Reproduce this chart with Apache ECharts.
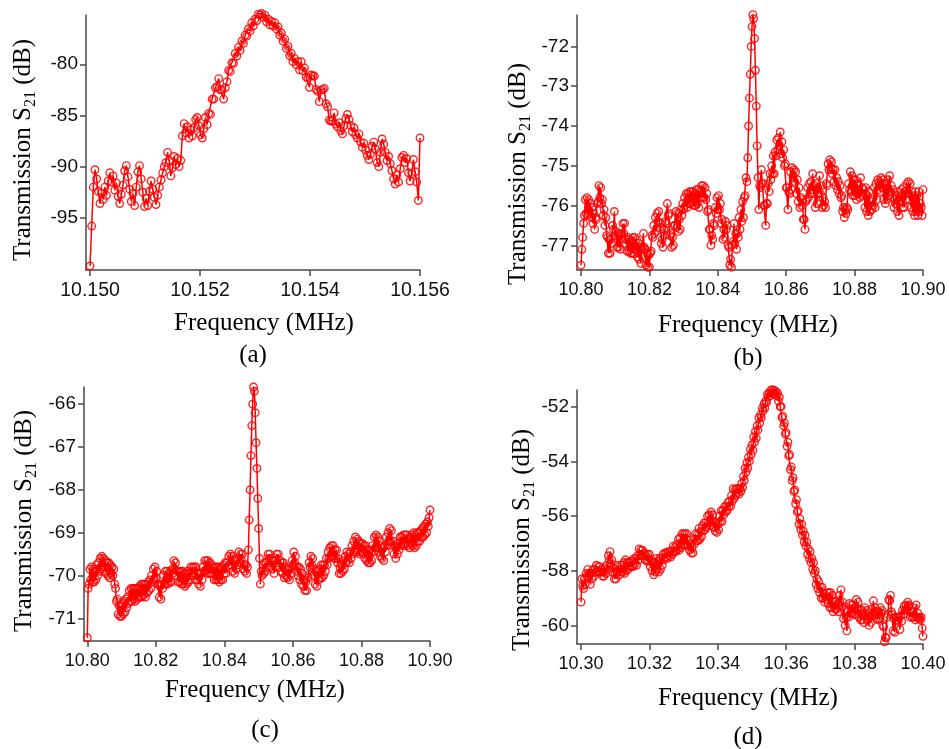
<!DOCTYPE html>
<html>
<head>
<meta charset="utf-8">
<script src="https://cdn.jsdelivr.net/npm/echarts@6/dist/echarts.min.js"></script>
<style>html,body{margin:0;padding:0;background:#fff}#chart{width:949px;height:749px}</style>
</head>
<body>
<div id="chart"></div>
<script>
// ---- Panel (a): sweep 10.150 .. 10.156 MHz ----
const sweepA = { start: 10.150, step: 0.00003 };
const s21A = [
-99.7,-95.8,-92.0,-90.3,-91.2,-92.4,-93.6,-92.6,-93.2,-92.0,
-92.8,-91.4,-90.6,-91.5,-90.9,-92.3,-91.6,-92.9,-93.6,-92.7,
-91.8,-90.4,-89.9,-91.0,-92.2,-93.4,-92.6,-93.8,-92.0,-90.5,
-89.9,-91.2,-92.5,-93.9,-93.1,-93.8,-92.4,-91.4,-92.2,-93.0,
-93.7,-92.8,-92.0,-91.3,-90.6,-90.0,-89.6,-88.6,-89.4,-90.9,
-90.1,-89.0,-89.8,-89.2,-90.0,-89.4,-87.0,-85.8,-86.7,-86.1,
-87.2,-86.4,-87.0,-86.2,-85.4,-85.2,-86.0,-86.9,-87.2,-86.3,
-85.2,-85.9,-84.8,-84.9,-83.4,-83.4,-82.3,-82.2,-81.4,-82.5,
-82.5,-83.4,-82.3,-81.7,-80.6,-80.7,-79.85,-79.9,-78.95,-79.2,
-78.35,-78.65,-77.75,-77.95,-77.15,-77.25,-76.55,-76.75,-75.95,-76.25,
-75.6,-75.75,-75.1,-75.2,-75.05,-75.4,-75.2,-75.85,-75.6,-76.15,
-75.8,-76.25,-75.95,-76.55,-76.35,-77.15,-76.95,-77.75,-77.55,-78.45,
-78.25,-79.15,-78.95,-79.75,-79.45,-80.05,-79.75,-80.55,-79.75,-80.65,
-80.35,-81.25,-81.35,-82.25,-81.05,-81.15,-81.15,-82.45,-82.65,-83.65,
-82.55,-82.45,-82.35,-83.85,-84.15,-85.45,-85.55,-85.55,-84.75,-85.85,
-86.1,-85.7,-86.5,-86.8,-86.0,-85.3,-84.9,-85.4,-86.0,-86.6,
-86.2,-86.9,-87.2,-86.8,-87.6,-88.1,-87.7,-88.4,-88.9,-89.3,
-88.8,-88.0,-87.6,-88.3,-89.6,-90.0,-88.6,-87.3,-87.8,-88.6,
-89.4,-89.0,-89.7,-90.4,-91.2,-91.7,-90.8,-91.5,-90.2,-89.1,
-88.9,-89.6,-89.2,-90.6,-91.4,-90.7,-89.3,-90.5,-91.5,-93.3,
-87.2
];
const xTicksA = [10.150, 10.152, 10.154, 10.156];
const yTicksA = [-95, -90, -85, -80];

// ---- Panel (b): sweep 10.80 .. 10.90 MHz ----
const sweepB = { start: 10.80, step: 0.00025 };
const s21B = [
-77.5,-77.1,-76.8,-76.45,-76.25,-75.85,-76.2,-75.8,-76.25,-75.85,
-76.2,-75.95,-76.3,-76.05,-76.45,-76.2,-76.6,-76.3,-76.35,-75.95,
-75.9,-75.5,-75.8,-75.55,-75.95,-75.85,-76.25,-76.1,-76.5,-76.3,
-76.75,-76.8,-77.2,-76.85,-77.2,-76.85,-76.95,-76.5,-76.6,-76.15,
-76.75,-76.65,-77.05,-76.7,-77.05,-76.75,-77.1,-76.7,-76.85,-76.45,
-76.7,-76.45,-76.95,-76.85,-77.15,-76.8,-77.15,-76.85,-77.2,-76.9,
-77.2,-76.8,-77.2,-76.8,-77.1,-76.85,-77.3,-76.95,-77.35,-77.05,
-77.45,-77.1,-77.05,-76.7,-77.05,-77.1,-77.5,-77.2,-77.55,-77.25,
-77.55,-77.2,-77.15,-76.75,-76.8,-76.5,-76.7,-76.3,-76.65,-76.2,
-76.4,-76.15,-76.55,-76.45,-76.95,-76.85,-77.05,-76.6,-76.75,-76.4,
-76.45,-75.95,-76.25,-76.2,-76.75,-76.7,-77.05,-76.8,-77.0,-76.5,
-76.5,-76.15,-76.55,-76.2,-76.65,-76.35,-76.6,-76.1,-76.25,-75.95,
-76.1,-75.8,-76.0,-75.7,-76.05,-75.7,-75.95,-75.65,-75.95,-75.65,
-75.9,-75.65,-76.0,-75.7,-76.0,-75.6,-75.95,-75.6,-76.05,-75.65,
-75.8,-75.5,-75.8,-75.5,-75.8,-75.55,-75.85,-75.7,-76.15,-76.1,
-76.6,-76.6,-77.0,-76.75,-76.85,-76.45,-76.5,-76.05,-76.2,-75.8,
-76.1,-75.75,-76.1,-75.95,-76.45,-76.35,-76.85,-76.6,-76.8,-76.4,
-76.6,-76.5,-77.0,-77.05,-77.5,-77.35,-77.55,-77.0,-76.9,-76.45,
-76.95,-76.7,-77.1,-76.7,-76.8,-76.3,-76.6,-76.1,-76.4,-75.9,
-76.3,-75.8,-75.75,-75.3,-75.4,-74.8,-74.0,-73.3,-72.7,-72.0,
-71.5,-71.2,-71.3,-71.8,-72.6,-73.5,-74.5,-75.3,-76.1,-75.5,
-75.55,-75.1,-75.45,-75.45,-76.0,-76.0,-76.5,-75.95,-75.95,-75.45,
-75.65,-75.2,-75.35,-75.0,-75.2,-74.75,-75.2,-74.65,-74.75,-74.35,
-74.6,-74.3,-74.5,-74.15,-74.7,-74.4,-74.8,-74.6,-75.0,-74.95,
-75.55,-75.55,-76.1,-75.65,-75.7,-75.15,-75.6,-75.05,-75.3,-75.1,
-75.4,-75.15,-75.7,-75.35,-75.9,-75.55,-76.05,-75.8,-76.0,-75.85,
-76.35,-76.35,-76.6,-75.9,-75.85,-75.55,-75.8,-75.45,-75.7,-75.4,
-75.6,-75.2,-75.7,-75.5,-76.05,-75.45,-75.95,-75.55,-75.7,-75.25,
-75.7,-75.5,-76.05,-75.8,-76.0,-75.9,-76.05,-75.45,-75.5,-74.95,
-75.1,-74.85,-75.05,-74.9,-75.2,-75.1,-75.4,-75.1,-75.5,-75.3,
-75.6,-75.4,-75.7,-75.5,-75.8,-75.75,-76.15,-76.05,-76.3,-76.1,
-76.2,-76.05,-76.1,-75.45,-75.6,-75.15,-75.65,-75.25,-75.75,-75.35,
-75.75,-75.35,-75.85,-75.45,-75.7,-75.5,-75.8,-75.3,-75.75,-75.55,
-75.7,-75.6,-76.05,-75.55,-76.15,-75.75,-76.25,-75.65,-76.15,-75.9,
-76.1,-75.85,-76.0,-75.55,-76.05,-75.45,-75.85,-75.35,-75.6,-75.4,
-75.65,-75.3,-75.55,-75.35,-75.85,-75.45,-75.95,-75.45,-75.85,-75.35,
-75.75,-75.25,-75.65,-75.5,-75.8,-75.6,-76.05,-75.85,-75.95,-75.75,
-76.15,-75.65,-76.25,-75.75,-75.9,-75.6,-76.05,-75.55,-76.05,-75.65,
-75.85,-75.45,-75.7,-75.4,-75.85,-75.45,-76.05,-75.65,-76.15,-75.75,
-76.25,-75.65,-76.15,-75.75,-76.25,-75.65,-76.15,-75.95,-76.05,-76.25,
-75.6
];
const xTicksB = [10.80, 10.82, 10.84, 10.86, 10.88, 10.90];
const yTicksB = [-77, -76, -75, -74, -73, -72];

// ---- Panel (c): sweep 10.80 .. 10.90 MHz ----
const sweepC = { start: 10.80, step: 0.00025 };
const s21C = [
-71.45,-70.3,-70.2,-69.85,-70.1,-69.8,-70.15,-69.85,-70.15,-69.9,
-70.1,-69.75,-70.0,-69.7,-69.9,-69.6,-69.85,-69.55,-69.8,-69.6,
-69.9,-69.65,-69.95,-69.7,-70.0,-69.7,-70.05,-69.75,-69.95,-69.8,
-70.0,-69.85,-70.2,-70.3,-70.6,-70.55,-70.9,-70.7,-70.95,-70.7,
-70.95,-70.65,-70.9,-70.6,-70.85,-70.55,-70.75,-70.5,-70.65,-70.35,
-70.6,-70.3,-70.6,-70.3,-70.55,-70.3,-70.6,-70.3,-70.55,-70.3,
-70.5,-70.25,-70.5,-70.2,-70.5,-70.2,-70.45,-70.2,-70.5,-70.2,
-70.4,-70.15,-70.35,-70.1,-70.3,-70.0,-70.15,-69.85,-70.1,-69.8,
-70.05,-69.9,-70.2,-70.2,-70.5,-70.25,-70.55,-70.2,-70.3,-70.0,
-70.2,-69.9,-70.2,-69.9,-70.2,-69.95,-70.15,-69.9,-70.15,-69.85,
-69.95,-69.65,-69.85,-69.7,-70.0,-69.9,-70.15,-69.9,-70.15,-69.9,
-70.2,-69.9,-70.2,-69.95,-70.25,-69.95,-70.2,-69.9,-70.15,-69.95,
-70.1,-69.8,-70.0,-69.8,-69.95,-69.8,-70.1,-69.8,-70.1,-69.95,
-70.2,-69.95,-70.25,-69.95,-70.1,-69.8,-69.9,-69.65,-69.9,-69.65,
-69.95,-69.65,-69.95,-69.7,-69.95,-69.75,-69.95,-69.8,-70.1,-69.8,
-70.1,-69.8,-70.1,-69.8,-70.15,-69.85,-70.1,-69.8,-70.1,-69.75,
-69.95,-69.7,-69.95,-69.7,-69.8,-69.55,-69.75,-69.5,-69.75,-69.55,
-69.9,-69.65,-69.95,-69.65,-69.85,-69.6,-69.75,-69.45,-69.7,-69.5,
-69.65,-69.5,-69.85,-69.75,-69.9,-69.75,-69.95,-69.8,-69.4,-68.7,
-68.0,-67.2,-66.5,-66.0,-65.6,-65.7,-66.2,-66.9,-67.5,-68.2,
-68.9,-69.6,-70.2,-69.9,-70.0,-69.75,-69.95,-69.7,-69.9,-69.7,
-69.8,-69.5,-69.6,-69.5,-69.8,-69.65,-69.85,-69.65,-69.95,-69.65,
-69.8,-69.5,-69.7,-69.5,-69.8,-69.65,-69.9,-69.7,-69.95,-69.7,
-70.05,-69.8,-70.0,-69.85,-70.05,-69.85,-70.1,-69.85,-69.95,-69.65,
-69.75,-69.45,-69.7,-69.55,-69.9,-69.8,-70.0,-69.8,-70.1,-69.85,
-70.2,-69.95,-70.25,-70.1,-70.35,-70.15,-70.35,-70.0,-70.05,-69.7,
-69.8,-69.55,-69.75,-69.6,-70.0,-69.85,-70.2,-69.9,-70.25,-69.9,
-70.1,-69.85,-70.05,-69.75,-70.05,-69.75,-70.0,-69.75,-69.9,-69.6,
-69.75,-69.45,-69.6,-69.35,-69.55,-69.3,-69.55,-69.3,-69.6,-69.4,
-69.6,-69.4,-69.7,-69.6,-69.95,-69.8,-69.95,-69.75,-69.9,-69.65,
-69.85,-69.55,-69.7,-69.45,-69.65,-69.5,-69.7,-69.45,-69.6,-69.3,
-69.5,-69.2,-69.45,-69.1,-69.4,-69.15,-69.45,-69.2,-69.5,-69.25,
-69.45,-69.25,-69.5,-69.3,-69.6,-69.3,-69.65,-69.4,-69.7,-69.4,
-69.7,-69.45,-69.65,-69.3,-69.45,-69.1,-69.35,-69.05,-69.35,-69.1,
-69.45,-69.2,-69.55,-69.3,-69.6,-69.35,-69.65,-69.3,-69.45,-69.1,
-69.3,-69.0,-69.2,-68.9,-69.2,-68.95,-69.3,-69.2,-69.5,-69.3,
-69.6,-69.35,-69.5,-69.25,-69.4,-69.1,-69.3,-69.1,-69.25,-69.05,
-69.3,-69.05,-69.25,-69.05,-69.3,-69.15,-69.35,-69.1,-69.25,-69.05,
-69.3,-69.0,-69.35,-69.05,-69.3,-69.0,-69.2,-69.0,-69.2,-68.95,
-69.1,-68.9,-69.1,-68.85,-69.05,-68.8,-69.0,-68.75,-68.85,-68.65,
-68.47
];
const xTicksC = [10.80, 10.82, 10.84, 10.86, 10.88, 10.90];
const yTicksC = [-71, -70, -69, -68, -67, -66];

// ---- Panel (d): sweep 10.30 .. 10.40 MHz ----
const sweepD = { start: 10.30, step: 0.00025 };
const s21D = [
-59.15,-58.3,-58.55,-58.65,-58.3,-58.5,-58.1,-58.2,-57.95,-58.2,
-58.1,-58.5,-58.1,-58.3,-57.95,-58.2,-57.95,-58.05,-57.8,-58.05,
-57.85,-58.05,-57.85,-58.05,-57.95,-58.2,-58.05,-58.2,-57.9,-58.1,
-57.8,-57.95,-57.45,-57.6,-57.3,-57.75,-57.6,-58.05,-57.9,-58.3,
-58.1,-58.3,-57.8,-58.0,-57.85,-58.15,-57.95,-58.05,-57.8,-58.05,
-57.7,-58.1,-57.6,-58.0,-57.7,-57.95,-57.7,-57.85,-57.65,-57.85,
-57.65,-57.85,-57.55,-57.75,-57.55,-57.8,-57.45,-57.6,-57.2,-57.45,
-57.25,-57.45,-57.25,-57.45,-57.35,-57.6,-57.45,-57.65,-57.4,-57.65,
-57.4,-57.85,-57.6,-58.0,-57.7,-58.15,-57.7,-58.05,-57.55,-57.95,
-57.65,-58.05,-57.55,-57.95,-57.55,-57.8,-57.4,-57.6,-57.35,-57.5,
-57.35,-57.55,-57.3,-57.45,-57.3,-57.5,-57.3,-57.4,-57.1,-57.3,
-57.15,-57.3,-57.05,-57.2,-56.85,-57.25,-56.8,-57.15,-56.65,-57.05,
-56.65,-57.05,-56.65,-57.05,-56.65,-57.1,-56.9,-57.25,-57.0,-57.35,
-57.15,-57.35,-56.85,-57.0,-56.65,-56.9,-56.7,-56.9,-56.45,-56.85,
-56.55,-56.75,-56.35,-56.55,-56.25,-56.5,-56.25,-56.4,-56.0,-56.25,
-55.95,-56.35,-55.85,-56.25,-55.95,-56.4,-56.2,-56.55,-56.25,-56.6,
-56.3,-56.5,-56.0,-56.2,-55.8,-56.2,-55.8,-55.95,-55.65,-55.85,
-55.65,-55.8,-55.5,-55.65,-55.45,-55.65,-55.25,-55.45,-55.0,-55.35,
-55.05,-55.25,-55.0,-55.15,-55.0,-55.2,-55.0,-55.1,-54.8,-54.95,
-54.55,-54.7,-54.25,-54.4,-54.05,-54.25,-53.85,-54.0,-53.55,-53.75,
-53.4,-53.6,-53.1,-53.3,-52.9,-53.15,-52.7,-52.85,-52.4,-52.6,
-52.3,-52.4,-52.05,-52.15,-51.9,-52.05,-51.8,-51.85,-51.55,-51.65,
-51.5,-51.6,-51.4,-51.5,-51.38,-51.5,-51.4,-51.55,-51.45,-51.6,
-51.5,-51.8,-51.65,-52.0,-52.0,-52.4,-52.35,-52.7,-52.6,-53.0,
-52.95,-53.45,-53.3,-53.8,-53.75,-54.3,-54.2,-54.7,-54.6,-55.1,
-55.05,-55.55,-55.4,-55.85,-55.8,-56.3,-56.1,-56.5,-56.3,-56.7,
-56.55,-56.95,-56.7,-57.1,-56.95,-57.4,-57.2,-57.55,-57.3,-57.7,
-57.55,-57.95,-57.7,-58.1,-58.0,-58.5,-58.3,-58.65,-58.4,-58.8,
-58.6,-59.0,-58.6,-59.0,-58.85,-59.15,-58.95,-59.05,-58.8,-59.2,
-58.8,-59.35,-58.8,-59.35,-58.9,-59.5,-59.15,-59.4,-59.1,-59.4,
-59.2,-59.5,-58.9,-59.15,-58.7,-59.3,-59.15,-59.75,-59.45,-60.0,
-59.7,-60.2,-59.5,-59.7,-59.2,-59.55,-59.25,-59.55,-59.25,-59.6,
-59.35,-59.6,-59.05,-59.4,-59.15,-59.7,-59.4,-59.8,-59.45,-59.8,
-59.6,-59.9,-59.35,-59.65,-59.45,-59.8,-59.55,-60.0,-59.65,-59.9,
-59.4,-59.65,-59.1,-59.55,-59.35,-59.75,-59.5,-59.8,-59.5,-59.75,
-59.35,-59.55,-59.45,-60.0,-60.05,-60.6,-60.45,-60.45,-59.7,-59.6,
-59.05,-59.1,-58.9,-59.5,-59.6,-60.2,-59.75,-60.25,-59.7,-59.8,
-59.7,-59.85,-59.7,-60.15,-59.65,-59.85,-59.45,-59.6,-59.3,-59.45,
-59.25,-59.4,-59.15,-59.3,-59.25,-59.7,-59.5,-59.7,-59.5,-59.7,
-59.35,-59.8,-59.25,-59.7,-59.55,-59.75,-59.7,-59.8,-59.7,-60.1,
-60.4
];
const xTicksD = [10.30, 10.32, 10.34, 10.36, 10.38, 10.40];
const yTicksD = [-60, -58, -56, -54, -52];

const panelLabels = ['(a)', '(b)', '(c)', '(d)'];
const xTitle = 'Frequency (MHz)';

// ---------------------------------------------------------------------------
function sweepData(sweep, vals) {
  return vals.map((v, i) => [+(sweep.start + i * sweep.step).toFixed(6), v]);
}

const axisColor = '#4a4a4a';
const sans = '"Liberation Sans", Arial, sans-serif';
const serif = '"Liberation Serif", "Times New Roman", serif';

const panels = [
  { data: sweepData(sweepA, s21A), xt: xTicksA, yt: yTicksA, dec: 3, xfs: 19.5,
    xmin: 10.149927, xmax: 10.156, ymin: -100.09, ymax: -75.19,
    grid: { left: 86, top: 15, width: 334, height: 255 } },
  { data: sweepData(sweepB, s21B), xt: xTicksB, yt: yTicksB, dec: 2, xfs: 18,
    xmin: 10.79883, xmax: 10.90, ymin: -77.62, ymax: -71.21,
    grid: { left: 577, top: 15, width: 346, height: 255 } },
  { data: sweepData(sweepC, s21C), xt: xTicksC, yt: yTicksC, dec: 2, xfs: 18,
    xmin: 10.79904, xmax: 10.90, ymin: -71.526, ymax: -65.6,
    grid: { left: 84, top: 387, width: 346, height: 254 } },
  { data: sweepData(sweepD, s21D), xt: xTicksD, yt: yTicksD, dec: 2, xfs: 18,
    xmin: 10.29883, xmax: 10.40, ymin: -60.68, ymax: -51.39,
    grid: { left: 577, top: 390, width: 346, height: 254 } }
];

const option = {
  animation: false,
  backgroundColor: '#fff',
  grid: panels.map(p => Object.assign({ containLabel: false }, p.grid)),
  xAxis: panels.map((p, i) => ({
    type: 'value', gridIndex: i, min: p.xmin, max: p.xmax,
    axisLine: { show: true, onZero: false, lineStyle: { color: axisColor, width: 1.5 } },
    axisTick: { show: true, inside: false, length: 6, customValues: p.xt, lineStyle: { color: axisColor, width: 1.5 } },
    axisLabel: { customValues: p.xt, margin: 11, formatter: v => v.toFixed(p.dec),
      fontSize: p.xfs, fontFamily: sans, color: '#111' },
    splitLine: { show: false }
  })),
  yAxis: panels.map((p, i) => ({
    type: 'value', gridIndex: i, min: p.ymin, max: p.ymax,
    axisLine: { show: true, onZero: false, lineStyle: { color: axisColor, width: 1.5 } },
    axisTick: { show: true, inside: false, length: 6, customValues: p.yt, lineStyle: { color: axisColor, width: 1.5 } },
    axisLabel: { customValues: p.yt, margin: 8, formatter: v => String(v),
      fontSize: 19, fontFamily: sans, color: '#111' },
    splitLine: { show: false }
  })),
  series: panels.map((p, i) => ({
    type: 'line', xAxisIndex: i, yAxisIndex: i, data: p.data,
    symbol: 'circle', symbolSize: 7.5, showSymbol: true, showAllSymbol: true,
    lineStyle: { color: '#ff0000', width: 1.5 },
    itemStyle: { color: 'rgba(255,255,255,0)', borderColor: 'rgba(255,0,0,0.85)', borderWidth: 1.4 },
    emphasis: { disabled: true }, silent: true, clip: false
  })),
  graphic: [
    ...[[264, 323], [748, 325], [255, 690], [748, 698]].map(([x, y]) => ({
      type: 'text', x, y,
      style: { text: xTitle, fontSize: 25, fontFamily: serif, fill: '#000', align: 'center', verticalAlign: 'middle' }
    })),
    ...[[253, 355], [748, 358], [265, 730], [748, 737]].map(([x, y], i) => ({
      type: 'text', x, y,
      style: { text: panelLabels[i], fontSize: 25, fontFamily: serif, fill: '#000', align: 'center', verticalAlign: 'middle' }
    })),
    ...[[25, 150], [520, 174], [26, 521], [524, 540]].map(([x, y]) => ({
      type: 'text', x, y, rotation: Math.PI / 2,
      style: {
        text: '{t|Transmission S}{s|21}{t| (dB)}',
        fontSize: 25, fontFamily: serif, fill: '#000', align: 'center', verticalAlign: 'middle',
        rich: {
          t: { fontSize: 25, fontFamily: serif, fill: '#000', verticalAlign: 'top', lineHeight: 28 },
          s: { fontSize: 16, fontFamily: serif, fill: '#000', verticalAlign: 'bottom', lineHeight: 20 }
        }
      }
    }))
  ]
};

const chart = echarts.init(document.getElementById('chart'), null, { renderer: 'canvas' });
chart.setOption(option);
</script>
</body>
</html>
